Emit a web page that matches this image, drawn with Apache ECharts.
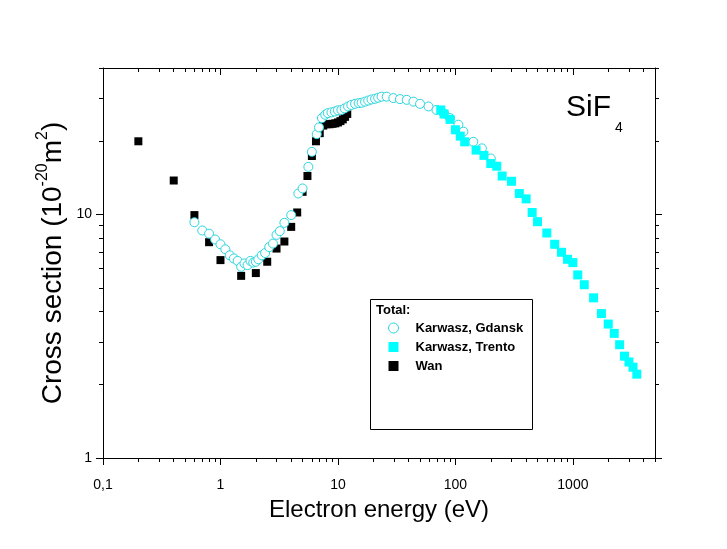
<!DOCTYPE html>
<html>
<head>
<meta charset="utf-8">
<title>SiF4 total cross section</title>
<script src="https://cdn.jsdelivr.net/npm/echarts@6.0.0/dist/echarts.min.js"></script>
<style>
  html, body { margin: 0; padding: 0; background: #fff; }
  #chart { width: 727px; height: 549px; }
</style>
</head>
<body>
<div id="chart"></div>
<script>
// energies in eV, cross sections in 10^-20 m^2
const gdanskEnergy = [0.6, 0.7, 0.8, 0.9, 1.0, 1.1, 1.2, 1.3, 1.4, 1.5, 1.6, 1.7, 1.8, 1.9, 2.0, 2.1, 2.25, 2.4,
  2.6, 2.8, 3.0, 3.2, 3.5, 4.0, 4.6, 5.0, 5.6, 6.0, 6.6, 6.9, 7.3, 7.8, 8.2, 8.8, 9.4, 10, 10.7, 11.4, 12.2,
  13, 14, 15, 15.9, 17, 18.1, 19.3, 20.7, 22, 23.5, 26, 29.6, 33.7, 38.5, 43.9, 50, 59, 69, 80, 90, 106,
  117, 142, 168, 200];
const gdanskSigma = [9.3, 8.6, 8.35, 7.9, 7.55, 7.2, 6.8, 6.6, 6.45, 6.1, 6.3, 6.2, 6.45, 6.35, 6.4, 6.55, 6.8, 6.95,
  7.35, 7.6, 8.25, 8.55, 9.25, 9.95, 12.2, 12.8, 15.7, 18.1, 21.4, 22.8, 24.9, 25.7, 26.1, 26.3, 26.5, 26.8, 26.9, 27.3, 27.8,
  28.2, 28.5, 28.7, 28.8, 29.1, 29.4, 29.7, 29.9, 30.2, 30.5, 30.5, 30.1, 29.8, 29.6, 29.1, 28.5, 27.8, 26.9, 26.0, 24.9, 23.4,
  21.9, 19.9, 18.7, 17.0];

const trentoEnergy = [75, 80, 90, 100, 110, 120, 150, 175, 200, 225, 250, 300, 350, 400, 450, 500, 600, 700, 800, 900,
  1000, 1100, 1250, 1500, 1750, 2000, 2250, 2500, 2750, 3000, 3250, 3500];
const trentoSigma = [26.9, 25.9, 24.6, 22.3, 21.0, 19.9, 18.4, 17.5, 16.2, 15.8, 14.4, 13.7, 12.2, 11.6, 10.2, 9.35, 8.4, 7.55, 7.0, 6.55,
  6.35, 5.65, 5.15, 4.55, 3.92, 3.55, 3.25, 2.92, 2.62, 2.48, 2.36, 2.21];

const wanEnergy = [0.2, 0.4, 0.6, 0.8, 1.0, 1.5, 2.0, 2.5, 3.0, 3.5, 4.0, 4.5, 5.0, 5.5, 6.0, 6.5, 7.0, 7.5, 8.0, 8.5,
  9.0, 9.5, 10, 10.5, 11, 11.5, 12];
const wanSigma = [20, 13.8, 9.95, 7.7, 6.5, 5.6, 5.75, 6.4, 7.25, 7.75, 8.9, 10.2, 12.4, 14.4, 17.4, 20.0, 21.6, 23.2, 23.5, 23.5,
  23.6, 23.7, 23.9, 24.2, 24.6, 25.2, 25.9];

const xTickValues = [0.1, 1, 10, 100, 1000];
const xTickLabels = ['0,1', '1', '10', '100', '1000'];
const yTickValues = [1, 10];
const yTickLabels = ['1', '10'];

const X_MIN = 0.1, X_MAX = 5000;
const Y_MIN = 1, Y_MAX = 40;
const FONT = 'Arial, "Liberation Sans", sans-serif';
const CYAN = '#00ffff';
const CIRCLE = '#2ad6e0';

function pairs(xs, ys) {
  return xs.map((x, i) => [x, ys[i]]);
}

// 2..9 of every decade between min and max
function minorTicks(min, max) {
  const out = [];
  for (let p = Math.floor(Math.log10(min)); p <= Math.ceil(Math.log10(max)); p++) {
    for (let k = 2; k <= 9; k++) {
      const v = +(k * Math.pow(10, p)).toPrecision(6);
      if (v > min && v <= max) out.push(v);
    }
  }
  return out;
}

function labelFor(values, labels) {
  return function (v) {
    for (let i = 0; i < values.length; i++) {
      if (Math.abs(Math.log10(v) - Math.log10(values[i])) < 1e-6) return labels[i];
    }
    return '';
  };
}

const black = { color: '#000', width: 1 };

// one log axis; several stacked on each side give major + minor ticks
function logAxis(position, min, max, ticks, len, inside, extra) {
  return Object.assign({
    type: 'log',
    logBase: 10,
    position: position,
    min: min,
    max: max,
    axisLine: { show: false, lineStyle: black },
    axisTick: { show: true, inside: inside, length: len, customValues: ticks, lineStyle: black },
    axisLabel: { show: false },
    splitLine: { show: false },
    minorTick: { show: false },
    silent: true
  }, extra || {});
}

const xMinor = minorTicks(X_MIN, X_MAX);
const yMinor = minorTicks(Y_MIN, Y_MAX);

const chart = echarts.init(document.getElementById('chart'));

chart.setOption({
  animation: false,
  backgroundColor: '#fff',
  textStyle: { fontFamily: FONT },
  grid: { left: 103, top: 68, right: 72, bottom: 91, outerBoundsMode: 'none' },
  xAxis: [
    logAxis('bottom', X_MIN, X_MAX, xTickValues, 7, false, {
      axisLine: { show: true, lineStyle: black },
      axisLabel: {
        show: true, customValues: xTickValues, formatter: labelFor(xTickValues, xTickLabels),
        margin: 20, fontSize: 14, color: '#000', fontFamily: FONT
      },
      name: 'Electron energy (eV)',
      nameLocation: 'middle',
      nameGap: 40,
      nameMoveOverlap: false,
      nameTextStyle: { fontSize: 24, color: '#000', fontFamily: FONT }
    }),
    logAxis('bottom', X_MIN, X_MAX, xMinor, 4, false),
    logAxis('top', X_MIN, X_MAX, xTickValues, 7, true, { axisLine: { show: true, lineStyle: black } }),
    logAxis('top', X_MIN, X_MAX, xMinor, 4, true)
  ],
  yAxis: [
    logAxis('left', Y_MIN, Y_MAX, yTickValues, 7, false, {
      axisLine: { show: true, lineStyle: black },
      axisLabel: {
        show: true, customValues: yTickValues, formatter: labelFor(yTickValues, yTickLabels),
        margin: 11, fontSize: 14, color: '#000', fontFamily: FONT
      },
      name: '{a|Cross section (10}{s|-20}{a|m}{s|2}{a|)}',
      nameLocation: 'middle',
      nameGap: 32,
      nameMoveOverlap: false,
      nameTextStyle: {
        color: '#000',
        fontFamily: FONT,
        rich: {
          a: { fontSize: 28, lineHeight: 36, verticalAlign: 'middle', color: '#000', fontFamily: FONT },
          s: { fontSize: 16, lineHeight: 16, verticalAlign: 'top', color: '#000', fontFamily: FONT }
        }
      }
    }),
    logAxis('left', Y_MIN, Y_MAX, yMinor, 4, false),
    logAxis('right', Y_MIN, Y_MAX, yTickValues, 7, false, { axisLine: { show: true, lineStyle: black } }),
    logAxis('right', Y_MIN, Y_MAX, yMinor, 4, false)
  ],
  legend: {
    data: ['Karwasz, Gdansk', 'Karwasz, Trento', 'Wan'],
    orient: 'vertical',
    left: 388,
    top: 321,
    itemWidth: 10,
    itemHeight: 10,
    itemGap: 5,
    padding: 0,
    selectedMode: false,
    itemStyle: { borderWidth: 1 },
    textStyle: {
      fontSize: 13, fontWeight: 'bold', color: '#000', lineHeight: 14, fontFamily: FONT,
      padding: [0, 0, 0, 12]
    }
  },
  graphic: [
    {
      type: 'rect',
      shape: { x: 370.5, y: 299.5, width: 162, height: 130 },
      style: { fill: 'none', stroke: '#000', lineWidth: 1 },
      silent: true
    },
    {
      type: 'text', x: 376, y: 310,
      style: { text: 'Total:', font: 'bold 13px ' + FONT, fill: '#000', verticalAlign: 'middle' }
    },
    {
      type: 'text', x: 566, y: 108,
      style: { text: 'SiF', font: '30px ' + FONT, fill: '#000', verticalAlign: 'middle' }
    },
    {
      type: 'text', x: 615, y: 128,
      style: { text: '4', font: '14px ' + FONT, fill: '#000', verticalAlign: 'middle' }
    }
  ],
  series: [
    {
      name: 'Wan',
      type: 'scatter',
      symbol: 'rect',
      symbolSize: 8,
      itemStyle: { color: '#000', opacity: 1 },
      data: pairs(wanEnergy, wanSigma)
    },
    {
      name: 'Karwasz, Gdansk',
      type: 'scatter',
      symbol: 'circle',
      symbolSize: 9,
      itemStyle: { color: '#fff', borderColor: CIRCLE, borderWidth: 1, opacity: 1 },
      data: pairs(gdanskEnergy, gdanskSigma)
    },
    {
      name: 'Karwasz, Trento',
      type: 'scatter',
      symbol: 'rect',
      symbolSize: 9,
      itemStyle: { color: CYAN, opacity: 1 },
      data: pairs(trentoEnergy, trentoSigma)
    }
  ]
});
</script>
</body>
</html>
